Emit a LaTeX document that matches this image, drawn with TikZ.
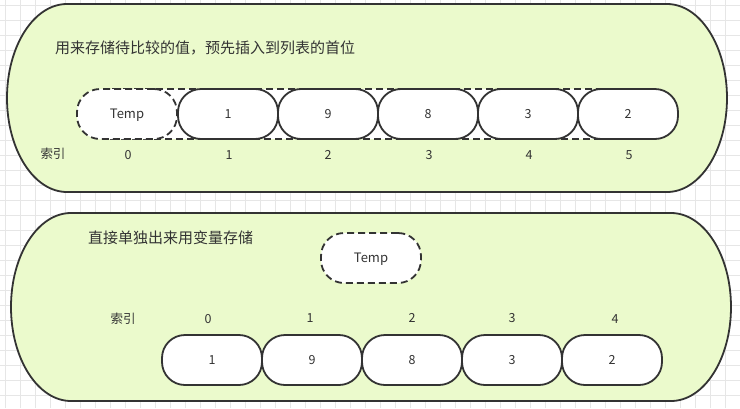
\documentclass[tikz,border=0pt]{standalone}
\usepackage{fontspec}
\setmainfont{Noto Sans CJK SC}
\begin{document}
\begin{tikzpicture}[x=1pt,y=1pt,
  panel/.style={draw=lineC,fill=greenC,line width=1.8pt},
  cell/.style={draw=lineC,fill=white,line width=1.8pt,rounded corners=23pt,
    minimum width=100pt,minimum height=50pt,inner sep=0pt,text=textC,
    text height=9pt,text depth=0pt,font=\fontsize{12.5}{14}\selectfont},
  tempcell/.style={cell,dash pattern=on 7pt off 4pt,font=\fontsize{13}{15}\selectfont},
  lbl/.style={text=textC,inner sep=0pt,font=\fontsize{12.5}{14}\selectfont},
  title/.style={text=textC,inner sep=0pt,anchor=west,font=\fontsize{15}{17}\selectfont},
]
\definecolor{lineC}{HTML}{333333}
\definecolor{textC}{HTML}{333333}
\definecolor{greenC}{HTML}{EBFACC}
\definecolor{gridC}{HTML}{E6E6E6}
\useasboundingbox (0,0) rectangle (740,-408);
\fill[white] (0,0) rectangle (740,-408);
\foreach \i in {0,...,49} {\draw[gridC,line width=1pt] (5+15*\i,0) -- (5+15*\i,-408);}
\foreach \j in {0,...,27} {\draw[gridC,line width=1pt] (0,-5-15*\j) -- (740,-5-15*\j);}

% top panel
\draw[panel] (67,-4) -- (667,-4) arc[start angle=90,end angle=-90,x radius=60pt,y radius=94pt]
  -- (67,-192) arc[start angle=-90,end angle=-270,x radius=60pt,y radius=94pt] -- cycle;
\node[title] (t1) at (55,-48) {用来存储待比较的值，预先插入到列表的首位};
\node[draw=lineC,fill=white,line width=1.8pt,dash pattern=on 7pt off 4pt,minimum width=535pt,minimum height=50pt,inner sep=0pt] (row) at (377.5,-114) {};
\node[tempcell] (a0) at (127,-114) {Temp};
\node[cell] (a1) at (228,-114) {1};
\node[cell] (a2) at (328,-114) {9};
\node[cell] (a3) at (428,-114) {8};
\node[cell] (a4) at (528,-114) {3};
\node[cell] (a5) at (628,-114) {2};
\node[lbl] (ia) at (53,-154) {索引};
\node[lbl] (ia0) at (128,-155) {0};
\node[lbl] (ia1) at (229,-155) {1};
\node[lbl] (ia2) at (328,-155) {2};
\node[lbl] (ia3) at (429,-155) {3};
\node[lbl] (ia4) at (529,-155) {4};
\node[lbl] (ia5) at (629,-155) {5};

% bottom panel
\draw[panel] (71,-213) -- (671,-213) arc[start angle=90,end angle=-90,x radius=60pt,y radius=94pt]
  -- (71,-401) arc[start angle=-90,end angle=-270,x radius=60pt,y radius=94pt] -- cycle;
\node[title] (t2) at (88,-238) {直接单独出来用变量存储};
\node[tempcell] (tmp) at (371,-258) {Temp};
\node[lbl] (ib) at (123,-319) {索引};
\node[lbl] (ib0) at (208,-319) {0};
\node[lbl] (ib1) at (310,-318) {1};
\node[lbl] (ib2) at (412,-318) {2};
\node[lbl] (ib3) at (512,-318) {3};
\node[lbl] (ib4) at (615,-319) {4};
\node[cell] (b0) at (212,-360) {1};
\node[cell] (b1) at (312,-360) {9};
\node[cell] (b2) at (412,-360) {8};
\node[cell] (b3) at (512,-360) {3};
\node[cell] (b4) at (612,-360) {2};
\end{tikzpicture}
\end{document}
